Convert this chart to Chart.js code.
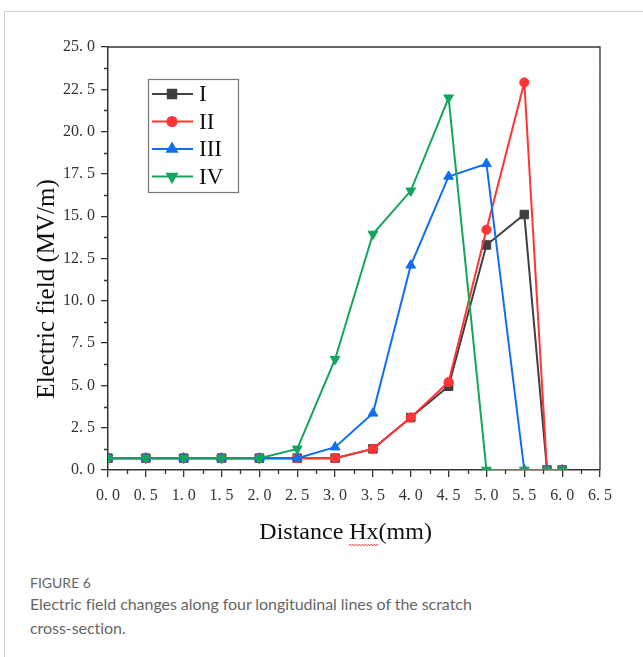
<!DOCTYPE html>
<html>
<head>
<meta charset="utf-8">
<title>Figure 6</title>
<script src="https://cdn.jsdelivr.net/npm/chart.js@4.4.1/dist/chart.umd.min.js"></script>
<style>
  html, body { margin: 0; padding: 0; background: #fff; }
  body { width: 643px; height: 657px; position: relative; overflow: hidden; }
  .card { position: absolute; left: 4px; top: 11px; right: -2px; bottom: -2px;
          border-top: 1px solid #cfcfcf; border-left: 1px solid #cfcfcf; }
  .plot { position: absolute; left: 0; top: 0; width: 643px; height: 560px; }
  .caption { position: absolute; left: 30px; top: 574px; width: 610px;
             font-family: Lato, "Open Sans", sans-serif; color: #666; }
  .caption .label { font-size: 14px; line-height: 18px; }
  .caption .text { font-size: 16px; line-height: 24px; letter-spacing: -0.05px; }
</style>
</head>
<body>
<div class="card"></div>
<div class="plot"><canvas id="fieldChart"></canvas></div>
<div class="caption">
  <div class="label">FIGURE 6</div>
  <div class="text">Electric field changes along four longitudinal lines of the scratch<br>cross-section.</div>
</div>
<script>
// distance along the line (mm) and field strength (MV/m) for each longitudinal line
const distance = [0, 0.5, 1.0, 1.5, 2.0, 2.5, 3.0, 3.5, 4.0, 4.5, 5.0, 5.5, 5.8, 6.0];
const fieldI   = [0.7, 0.7, 0.7, 0.7, 0.7, 0.7, 0.7, 1.25, 3.1, 4.95, 13.3, 15.1, 0, 0];
const fieldII  = [0.7, 0.7, 0.7, 0.7, 0.7, 0.7, 0.7, 1.25, 3.1, 5.2, 14.2, 22.9, 0, 0];
const fieldIII = [0.7, 0.7, 0.7, 0.7, 0.7, 0.7, 1.35, 3.35, 12.1, 17.35, 18.1, 0, 0, 0];
const fieldIV  = [0.7, 0.7, 0.7, 0.7, 0.7, 1.25, 6.55, 13.95, 16.5, 22.0, 0, 0, 0, 0];

const lineNames = ['I', 'II', 'III', 'IV'];
const xTicks = { min: 0, max: 6.5, step: 0.5 };
const yTicks = { min: 0, max: 25, step: 2.5 };

const serif = '"Liberation Serif", "DejaVu Serif", serif';
const axisColor = '#333';

function pairs(values) {
    return distance.map((d, i) => ({ x: d, y: values[i] }));
}

// "2. 5" style labels
function fmt(v) {
    return Number(v).toFixed(1).replace('.', '. ');
}

function series(label, values, color, style, radius, rotation, order) {
    return {
        label: label,
        data: pairs(values),
        borderColor: color,
        backgroundColor: color,
        pointBackgroundColor: color,
        pointBorderColor: color,
        borderWidth: 2,
        pointStyle: style,
        pointRadius: radius,
        pointRotation: rotation,
        pointBorderWidth: 1,
        tension: 0,
        clip: 0,
        order: order
    };
}

// minor ticks plus the top / right sides of the frame
const frameAndMinor = {
    id: 'frameAndMinor',
    afterDraw(chart) {
        const { ctx, chartArea: a, scales: { x, y } } = chart;
        ctx.save();
        ctx.strokeStyle = axisColor;
        ctx.lineWidth = 1.3;
        ctx.beginPath();
        for (let v = xTicks.step / 2; v < xTicks.max; v += xTicks.step) {
            const px = Math.round(x.getPixelForValue(v)) + 0.5;
            ctx.moveTo(px, a.bottom);
            ctx.lineTo(px, a.bottom + 4);
        }
        for (let v = yTicks.step / 2; v < yTicks.max; v += yTicks.step) {
            const py = Math.round(y.getPixelForValue(v)) + 0.5;
            ctx.moveTo(a.left, py);
            ctx.lineTo(a.left - 4, py);
        }
        ctx.moveTo(a.left, a.top);
        ctx.lineTo(a.right, a.top);
        ctx.lineTo(a.right, a.bottom);
        ctx.stroke();
        ctx.restore();
    }
};

// axis titles, with the red squiggle under "Hx"
const axisTitles = {
    id: 'axisTitles',
    afterDraw(chart) {
        const { ctx, chartArea: a } = chart;
        ctx.save();
        ctx.fillStyle = '#111';
        ctx.font = '24px ' + serif;
        ctx.textAlign = 'center';
        ctx.textBaseline = 'middle';

        const xt = 'Distance Hx(mm)';
        const cx = a.left + (a.right - a.left) * 0.483;
        const cy = a.bottom + 63;
        ctx.fillText(xt, cx, cy);

        const total = ctx.measureText(xt).width;
        const pre = ctx.measureText('Distance ').width;
        const hx = ctx.measureText('Hx').width;
        const sx = cx - total / 2 + pre;
        ctx.strokeStyle = '#e23b3b';
        ctx.lineWidth = 0.8;
        ctx.beginPath();
        for (let i = 0; i <= hx; i += 1) {
            const wy = cy + 12 + (i % 3 === 1 ? -1 : 0.6);
            if (i === 0) ctx.moveTo(sx + i, wy); else ctx.lineTo(sx + i, wy);
        }
        ctx.stroke();

        ctx.font = '25px ' + serif;
        ctx.translate(a.left - 61, a.top + (a.bottom - a.top) * 0.572);
        ctx.rotate(-Math.PI / 2);
        ctx.fillText('Electric field (MV/m)', 0, 0);
        ctx.restore();
    }
};

// boxed legend in the upper left of the plot
const legendBox = {
    id: 'legendBox',
    afterDraw(chart) {
        const { ctx, chartArea: a } = chart;
        const x0 = a.left + 40, y0 = a.top + 32;
        ctx.save();
        ctx.strokeStyle = '#777';
        ctx.lineWidth = 1.2;
        ctx.strokeRect(x0 + 0.5, y0 + 0.5, 90, 113);
        ctx.font = '23px ' + serif;
        ctx.textBaseline = 'middle';
        chart.data.datasets.forEach((ds, i) => {
            const ly = y0 + 15 + i * 27.5;
            ctx.strokeStyle = ds.borderColor;
            ctx.fillStyle = ds.borderColor;
            ctx.lineWidth = 2;
            ctx.beginPath();
            ctx.moveTo(x0 + 4, ly);
            ctx.lineTo(x0 + 45, ly);
            ctx.stroke();
            Chart.helpers.drawPoint(ctx, {
                pointStyle: ds.pointStyle,
                radius: ds.pointRadius,
                rotation: ds.pointRotation,
                borderWidth: 1
            }, x0 + 24, ly);
            ctx.fillStyle = '#111';
            ctx.fillText(ds.label, x0 + 51, ly + 1);
        });
        ctx.restore();
    }
};

const ctx = document.getElementById('fieldChart').getContext('2d');
new Chart(ctx, {
    type: 'line',
    data: {
        datasets: [
            series(lineNames[0], fieldI, '#3f3f3f', 'rect', 6, 0, 4),
            series(lineNames[1], fieldII, '#ff3434', 'circle', 4.6, 0, 3),
            series(lineNames[2], fieldIII, '#106ef0', 'triangle', 5.6, 0, 2),
            series(lineNames[3], fieldIV, '#13a55c', 'triangle', 5.6, 180, 1)
        ]
    },
    options: {
        responsive: true,
        maintainAspectRatio: false,
        animation: false,
        layout: { padding: { top: 47, right: 43, left: 0, bottom: 0 } },
        plugins: {
            legend: { display: false },
            tooltip: { enabled: false }
        },
        scales: {
            x: {
                type: 'linear',
                min: xTicks.min,
                max: xTicks.max,
                afterFit(scale) { scale.height = 90; },
                ticks: {
                    stepSize: xTicks.step,
                    callback: fmt,
                    color: axisColor,
                    padding: 9,
                    maxRotation: 0,
                    autoSkip: false,
                    font: { family: serif, size: 16 }
                },
                grid: { drawOnChartArea: false, drawTicks: true, tickLength: 7, color: axisColor, lineWidth: 1.3 },
                border: { display: true, color: axisColor, width: 1.5 }
            },
            y: {
                type: 'linear',
                min: yTicks.min,
                max: yTicks.max,
                afterFit(scale) { scale.width = 108; },
                ticks: {
                    stepSize: yTicks.step,
                    callback: fmt,
                    color: axisColor,
                    padding: 6,
                    autoSkip: false,
                    font: { family: serif, size: 16 }
                },
                grid: { drawOnChartArea: false, drawTicks: true, tickLength: 7, color: axisColor, lineWidth: 1.3 },
                border: { display: true, color: axisColor, width: 1.5 }
            }
        }
    },
    plugins: [frameAndMinor, legendBox, axisTitles]
});
</script>
</body>
</html>
